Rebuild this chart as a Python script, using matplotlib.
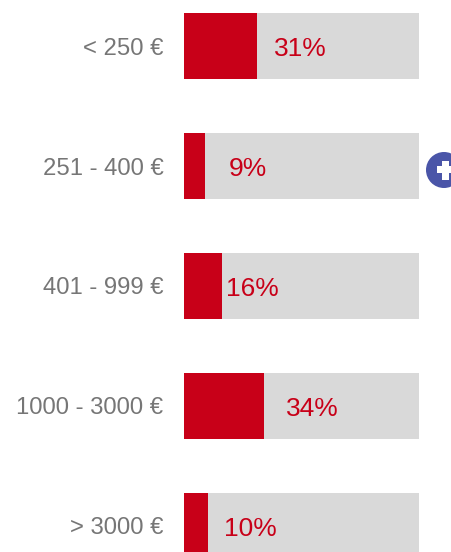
#!/usr/bin/env python3
import matplotlib; matplotlib.use("Agg")
import matplotlib.pyplot as plt
from matplotlib.patches import Circle, Rectangle
from matplotlib.transforms import Affine2D

plt.rcParams["font.family"] = ["Liberation Sans", "DejaVu Sans"]

categories = ["< 250 €", "251 - 400 €", "401 - 999 €", "1000 - 3000 €", "> 3000 €"]
shares = [31, 9, 16, 34, 10]
full_scale = 100

W, H = 451, 552
RED = "#C80018"; TRACK = "#D9D9D9"; GREY = "#767676"; BLUE = "#4A55A8"
label_gap_px = [17, 24, 4, 22, 16]   # gap from bar end to the % text

fig = plt.figure(figsize=(W / 100, H / 100), dpi=100)
ax = fig.add_axes([184 / W, 0, 235 / W, 1])
# rows sit 120 px apart, first row centre at y=46 px
ax.set_ylim((H - 46) / 120, -46 / 120)
ax.set_xlim(0, full_scale)

ypos = list(range(len(categories)))
ax.barh(ypos, [full_scale] * len(ypos), height=66 / 120, color=TRACK)
ax.barh(ypos, shares, height=66 / 120, color=RED)

for y, v, gap in zip(ypos, shares, label_gap_px):
    ax.annotate(f"{v}%", (v, y), xytext=(gap * .72, -2.5 * .72), textcoords="offset points",
                ha="left", va="center", color=RED, fontsize=19)

ax.set_yticks(ypos, categories, color=GREY, fontsize=17.2)
ax.tick_params(axis="y", length=0, pad=20.5 * .72)
ax.set_xticks([])
for s in ax.spines.values():
    s.set_visible(False)

# round "+" button on the right edge, in pixel coords (y down)
px = Affine2D().scale(1, -1).translate(0, H)
fig.add_artist(Circle((444, 170), 18, color=BLUE, lw=0, transform=px))
fig.add_artist(Rectangle((437, 166), 14, 7, color="white", lw=0, transform=px))
fig.add_artist(Rectangle((442, 160.5), 7, 19, color="white", lw=0, transform=px))

fig.savefig("out.png", dpi=100)
